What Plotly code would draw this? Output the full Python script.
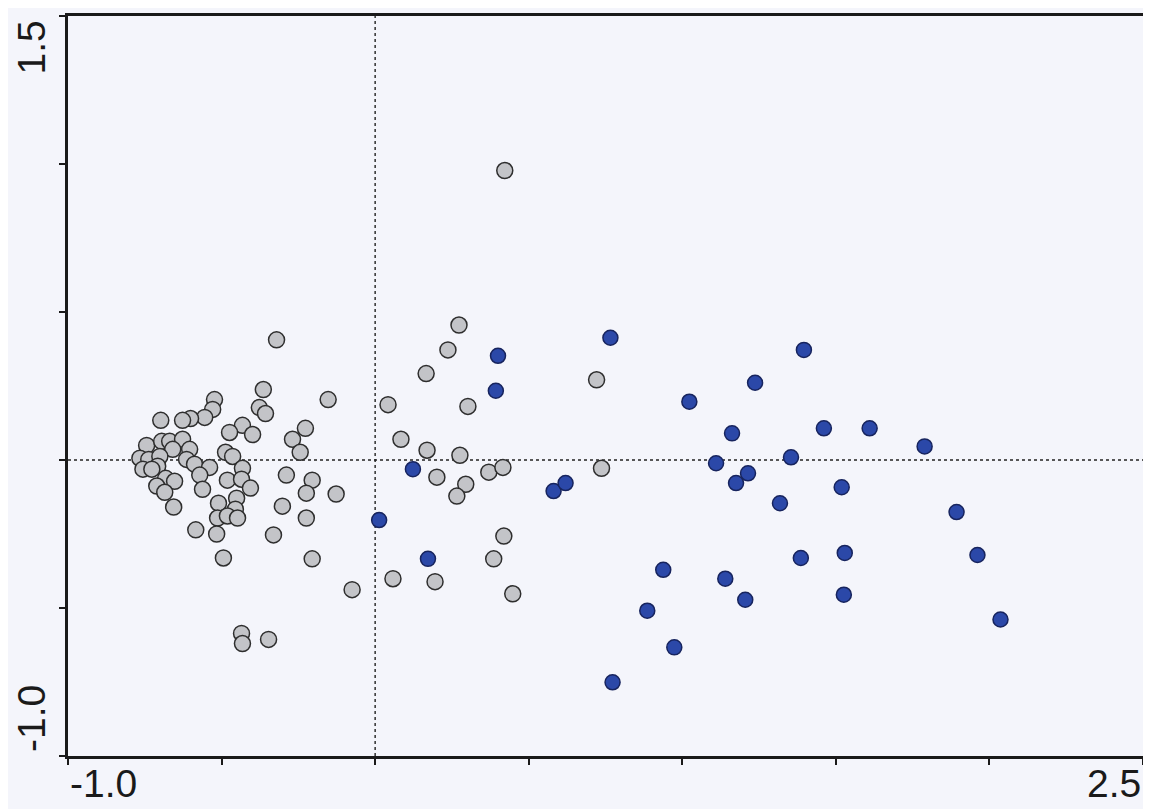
import plotly.graph_objects as go

# Grey group (axis 1, axis 2)
grey_x = [0.422, -0.321, 0.273, 0.237, 0.166, -0.364, -0.153, 0.042, 0.302, 0.721,
          0.737, -0.523, -0.529, -0.555, -0.601, -0.627, -0.698, -0.377, -0.357, -0.432,
          -0.474, -0.399, -0.227, -0.269, -0.244, 0.084, 0.169, 0.276, 0.201, 0.370,
          0.416, 0.295, 0.266, 0.419, 0.386, 0.058, 0.195, 0.448, -0.744, -0.695,
          -0.669, -0.627, -0.604, -0.659, -0.766, -0.737, -0.701, -0.708, -0.614, -0.588,
          -0.487, -0.464, -0.756, -0.727, -0.539, -0.432, -0.571, -0.481, -0.435, -0.682,
          -0.653, -0.711, -0.685, -0.562, -0.406, -0.289, -0.205, -0.224, -0.127, -0.451,
          -0.510, -0.302, -0.656, -0.455, -0.513, -0.481, -0.448, -0.224, -0.584, -0.516,
          -0.331, -0.494, -0.205, -0.075, -0.435, -0.432, -0.347]
grey_y = [0.978, 0.406, 0.456, 0.372, 0.292, 0.238, 0.204, 0.187, 0.181, 0.271,
          -0.028, 0.204, 0.171, 0.144, 0.140, 0.134, 0.134, 0.177, 0.157, 0.117,
          0.093, 0.086, 0.107, 0.070, 0.026, 0.070, 0.033, 0.016, -0.058, -0.041,
          -0.025, -0.082, -0.122, -0.257, -0.334, -0.401, -0.411, -0.452, 0.049, 0.063,
          0.063, 0.070, 0.036, 0.036, 0.006, 0.002, 0.012, -0.021, 0.002, -0.014,
          0.026, 0.012, -0.031, -0.031, -0.025, -0.028, -0.051, -0.068, -0.065, -0.062,
          -0.072, -0.088, -0.109, -0.099, -0.095, -0.051, -0.068, -0.112, -0.115, -0.129,
          -0.146, -0.156, -0.159, -0.166, -0.196, -0.189, -0.196, -0.196, -0.236, -0.250,
          -0.253, -0.331, -0.334, -0.438, -0.586, -0.620, -0.606]

# Blue group
blue_x = [0.400, 0.393, 0.123, 0.013, 0.172, 0.581, 0.620, 0.766, 1.396, 1.237,
          1.023, 1.162, 1.110, 1.214, 1.175, 1.354, 1.461, 1.318, 0.938, 1.140,
          1.205, 0.886, 1.386, 0.974, 0.773, 1.610, 1.789, 1.519, 1.893, 1.529,
          1.961, 1.526, 2.036]
blue_y = [0.352, 0.234, -0.031, -0.203, -0.334, -0.105, -0.078, 0.413, 0.372, 0.261,
          0.197, 0.090, -0.011, -0.045, -0.078, 0.009, 0.107, -0.146, -0.371, -0.401,
          -0.472, -0.509, -0.331, -0.633, -0.751, 0.107, 0.046, -0.092, -0.176, -0.314,
          -0.321, -0.455, -0.539]

x_range = [-1.0, 2.5]
y_range = [-1.0, 1.5]
x_ticks = [-1.0, -0.5, 0.0, 0.5, 1.0, 1.5, 2.0, 2.5]
y_ticks = [-1.0, -0.5, 0.0, 0.5, 1.0, 1.5]
x_labels = ["-1.0", "2.5"]
y_labels = ["-1.0", "1.5"]

BG = "#f4f5fb"
FONT = "Liberation Sans, Arial, sans-serif"
FS = 39

fig = go.Figure()
fig.add_trace(go.Scatter(
    x=grey_x, y=grey_y, mode="markers",
    marker=dict(size=16, color="#c3c4c8", line=dict(color="#2e2e2e", width=1.5)),
    showlegend=False, hoverinfo="skip"))
fig.add_trace(go.Scatter(
    x=blue_x, y=blue_y, mode="markers",
    marker=dict(size=15, color="#2b48a8", line=dict(color="#17245e", width=1.5)),
    showlegend=False, hoverinfo="skip"))

# Dotted reference lines
fig.add_shape(type="line", xref="x", yref="paper", x0=0, x1=0, y0=0, y1=1,
              line=dict(color="#222", width=1.4, dash="dot"), layer="below")
fig.add_shape(type="line", xref="paper", yref="y", x0=0, x1=1, y0=0, y1=0,
              line=dict(color="#222", width=1.4, dash="dot"), layer="below")

axis_common = dict(showgrid=False, zeroline=False, showline=True, mirror=True,
                   linecolor="#1a1a1a", linewidth=3, ticks="outside", ticklen=6,
                   tickwidth=2, tickcolor="#1a1a1a", showticklabels=False)

fig.update_layout(
    width=1143, height=801,
    margin=dict(l=60, r=5, t=5, b=53),
    paper_bgcolor=BG, plot_bgcolor=BG,
    xaxis=dict(range=x_range, tickvals=x_ticks, **axis_common),
    yaxis=dict(range=y_range, tickvals=y_ticks, **axis_common),
)

# Axis end labels
fig.add_annotation(x=x_range[0], y=0, xref="x", yref="paper", text=x_labels[0],
                   showarrow=False, xanchor="left", yanchor="top", yshift=-4,
                   font=dict(family=FONT, size=FS, color="#1a1a1a"))
fig.add_annotation(x=x_range[1], y=0, xref="x", yref="paper", text=x_labels[1],
                   showarrow=False, xanchor="right", yanchor="top", yshift=-4,
                   font=dict(family=FONT, size=FS, color="#1a1a1a"))
fig.add_annotation(x=-0.034, y=y_range[1], xref="paper", yref="y", text=y_labels[1],
                   showarrow=False, xanchor="center", yanchor="top", textangle=-90,
                   yshift=-2, font=dict(family=FONT, size=FS, color="#1a1a1a"))
fig.add_annotation(x=-0.034, y=y_range[0], xref="paper", yref="y", text=y_labels[0],
                   showarrow=False, xanchor="center", yanchor="bottom", textangle=-90,
                   yshift=2, font=dict(family=FONT, size=FS, color="#1a1a1a"))

fig.write_html("out.html")
